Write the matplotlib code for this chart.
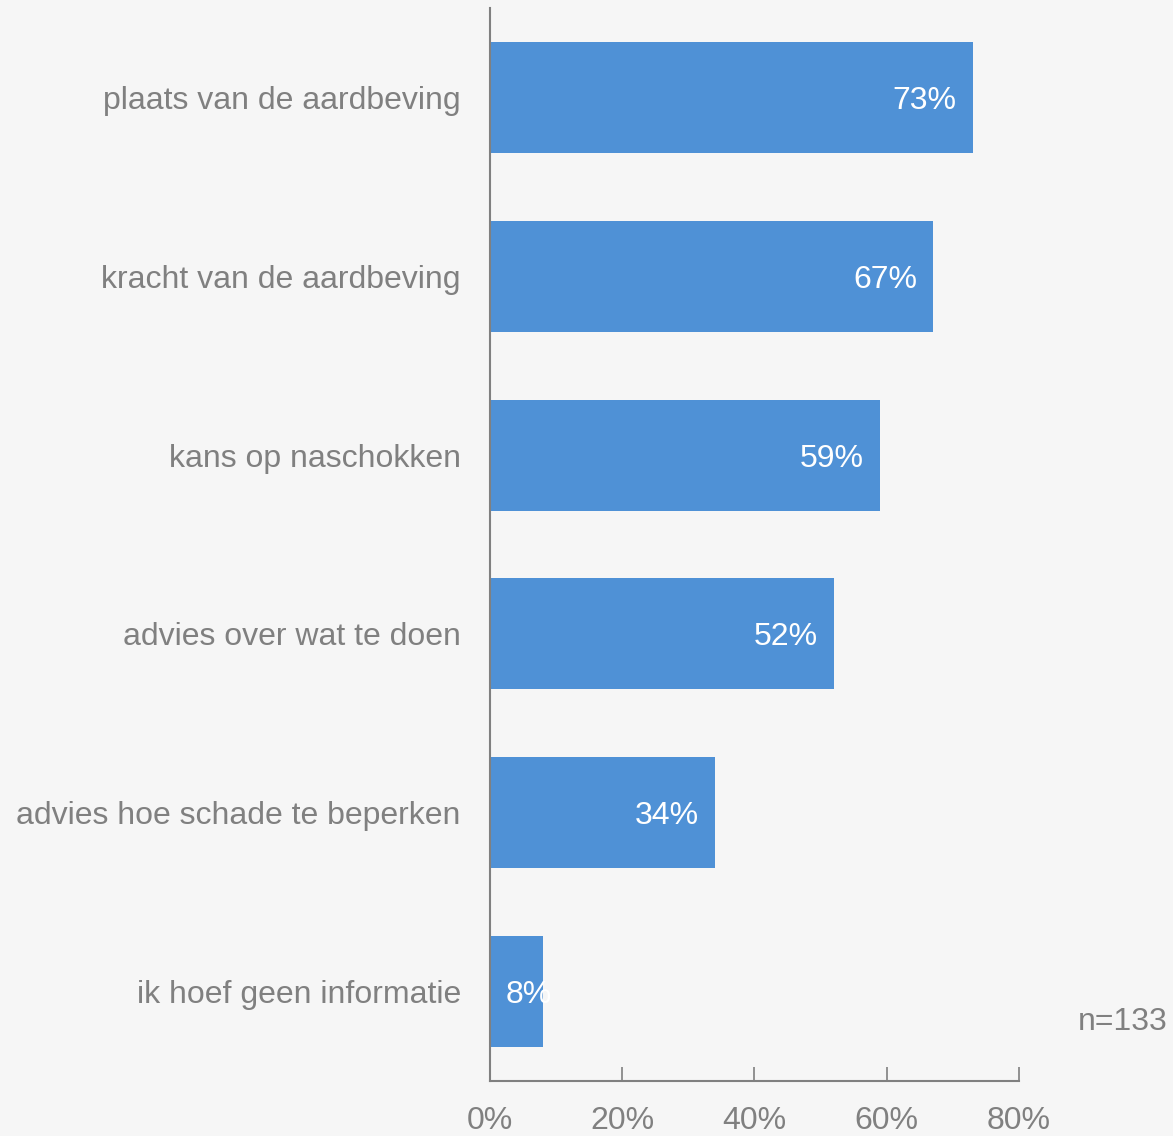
import matplotlib.pyplot as plt

# survey answers, top to bottom
categories = [
    "plaats van de aardbeving",
    "kracht van de aardbeving",
    "kans op naschokken",
    "advies over wat te doen",
    "advies hoe schade te beperken",
    "ik hoef geen informatie",
]
percentages = [73, 67, 59, 52, 34, 8]
xticks = [0, 20, 40, 60, 80]
n_label = "n=133"

bg = "#f6f6f6"
bar_color = "#4f91d6"
grey = "#808080"
fs = 23

plt.rcParams["font.family"] = ["Liberation Sans", "DejaVu Sans"]

fig = plt.figure(figsize=(11.73, 11.36), dpi=100, facecolor=bg)
ax = fig.add_axes([0.4177, 0.0484, 0.4510, 0.9446])
ax.set_facecolor(bg)

ypos = list(range(len(categories)))
ax.barh(ypos, percentages, height=0.62, color=bar_color)
ax.set_ylim(len(categories) - 0.5, -0.5)
ax.set_xlim(0, 80)

ax.set_yticks(ypos)
ax.set_yticklabels(categories, fontsize=fs, color=grey)
ax.tick_params(axis="y", length=0, pad=21)

ax.set_xticks(xticks)
ax.set_xticklabels([f"{t}%" for t in xticks], fontsize=fs, color=grey)
ax.tick_params(axis="x", direction="in", length=10, width=1.2, color=grey, pad=18)

for side in ["top", "right"]:
    ax.spines[side].set_visible(False)
for side in ["left", "bottom"]:
    ax.spines[side].set_color(grey)
    ax.spines[side].set_linewidth(1.5)

# value labels inside the bar end, or from the base for short bars
for y, v in zip(ypos, percentages):
    if v > 10:
        ax.text(v - 2.4, y, f"{v}%", ha="right", va="center_baseline", color="white", fontsize=fs)
    else:
        ax.text(2.4, y, f"{v}%", ha="left", va="center_baseline", color="white", fontsize=fs)

fig.text(0.995, 1 - 1022 / 1136, n_label, ha="right", va="center", fontsize=fs, color=grey)

fig.savefig("out.png", facecolor=bg)
